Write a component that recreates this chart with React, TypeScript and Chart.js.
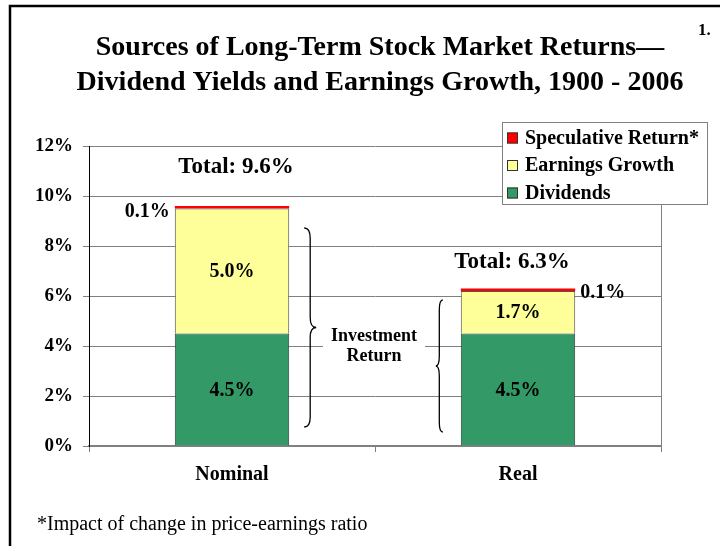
import React, { useEffect, useRef } from 'react';
import { Chart, registerables } from 'chart.js';

Chart.register(...registerables);

const categories = ['Nominal', 'Real'];
const dividends = [4.5, 4.5];
const earningsGrowth = [5.0, 1.7];
const speculative = [0.1, 0.1];
const seriesLabels = ['Dividends', 'Earnings Growth', 'Speculative Return*'];
const seriesColors = ['#339966', '#FFFF99', '#FF0000'];
const yMin = 0;
const yMax = 12;
const yStep = 2;
const titleLines = [
  'Sources of Long-Term Stock Market Returns\u2014',
  'Dividend Yields and Earnings Growth, 1900 - 2006',
];
const footnote = '*Impact of change in price-earnings ratio';
const pageNumber = '1.';
const braceLabel = ['Investment', 'Return'];
// brace extents in axis units (annotation)
const braceRanges = [
  [0.76, 8.72],
  [0.56, 5.84],
];

const FONT = "'Liberation Serif', 'Times New Roman', serif";

const annotations = {
  id: 'annotations',
  beforeDatasetsDraw(chart: any) {
    const { ctx, chartArea } = chart;
    ctx.save();
    ctx.strokeStyle = '#808080';
    ctx.lineWidth = 1;
    ctx.beginPath();
    ctx.moveTo(chartArea.right + 0.5, chartArea.top);
    ctx.lineTo(chartArea.right + 0.5, chartArea.bottom);
    ctx.stroke();
    ctx.restore();
  },
  afterDatasetsDraw(chart: any) {
    const { ctx, scales } = chart;
    const y = scales.y;
    const x = scales.x;
    ctx.save();
    ctx.fillStyle = '#000';
    ctx.textAlign = 'center';
    ctx.textBaseline = 'middle';

    // segment labels
    [0, 1].forEach((di) => {
      const meta = chart.getDatasetMeta(di);
      meta.data.forEach((el: any, i: number) => {
        const v = chart.data.datasets[di].data[i] as number;
        ctx.font = `bold 20px ${FONT}`;
        ctx.fillText(v.toFixed(1) + '%', el.x, (el.y + el.base) / 2 + 1);
      });
    });

    // speculative labels
    const specMeta = chart.getDatasetMeta(2);
    specMeta.data.forEach((el: any, i: number) => {
      const v = speculative[i];
      ctx.font = `bold 20px ${FONT}`;
      const half = el.width / 2;
      if (i === 0) {
        ctx.textAlign = 'right';
        ctx.fillText(v.toFixed(1) + '%', el.x - half - 5, el.y + 6);
      } else {
        ctx.textAlign = 'left';
        ctx.fillText(v.toFixed(1) + '%', el.x + half + 5, el.y + 4);
      }
    });

    // totals
    const totalOffsets = [
      [4, -39],
      [-6, -26],
    ];
    categories.forEach((_, i) => {
      const total = dividends[i] + earningsGrowth[i] + speculative[i];
      const el = specMeta.data[i] as any;
      ctx.font = `bold 23px ${FONT}`;
      ctx.textAlign = 'center';
      ctx.fillText(
        'Total: ' + total.toFixed(1) + '%',
        el.x + totalOffsets[i][0],
        y.getPixelForValue(total) + totalOffsets[i][1]
      );
    });

    // braces
    ctx.strokeStyle = '#000';
    ctx.lineWidth = 1.3;
    const drawBrace = (x0: number, yTop: number, yBot: number, w: number) => {
      const yMid = (yTop + yBot) / 2;
      const h = w / 2;
      const r = 10;
      ctx.beginPath();
      ctx.moveTo(x0, yTop);
      ctx.quadraticCurveTo(x0 + h, yTop, x0 + h, yTop + r);
      ctx.lineTo(x0 + h, yMid - r);
      ctx.quadraticCurveTo(x0 + h, yMid, x0 + w, yMid);
      ctx.quadraticCurveTo(x0 + h, yMid, x0 + h, yMid + r);
      ctx.lineTo(x0 + h, yBot - r);
      ctx.quadraticCurveTo(x0 + h, yBot, x0, yBot);
      ctx.stroke();
    };
    const bar0 = specMeta.data[0] as any;
    const bar1 = specMeta.data[1] as any;
    drawBrace(
      bar0.x + bar0.width / 2 + 15,
      y.getPixelForValue(braceRanges[0][1]),
      y.getPixelForValue(braceRanges[0][0]),
      12
    );
    drawBrace(
      bar1.x - bar1.width / 2 - 18,
      y.getPixelForValue(braceRanges[1][1]),
      y.getPixelForValue(braceRanges[1][0]),
      -7
    );

    // investment return label
    const cx = (x.getPixelForValue(0) + x.getPixelForValue(1)) / 2 - 1;
    const cy = y.getPixelForValue(4);
    ctx.fillStyle = '#fff';
    ctx.fillRect(cx - 51, cy - 20, 102, 40);
    ctx.fillStyle = '#000';
    ctx.font = `bold 18px ${FONT}`;
    ctx.textAlign = 'center';
    ctx.fillText(braceLabel[0], cx, cy - 10);
    ctx.fillText(braceLabel[1], cx, cy + 10);
    ctx.restore();
  },
  afterDraw(chart: any) {
    const { ctx } = chart;
    ctx.save();
    // frame
    ctx.strokeStyle = '#000';
    ctx.lineWidth = 2.5;
    ctx.beginPath();
    ctx.moveTo(10, 546);
    ctx.lineTo(10, 6);
    ctx.lineTo(720, 6);
    ctx.stroke();

    // title
    ctx.fillStyle = '#000';
    ctx.textAlign = 'center';
    ctx.textBaseline = 'middle';
    ctx.font = `bold 28px ${FONT}`;
    ctx.fillText(titleLines[0], 380, 48);
    ctx.fillText(titleLines[1], 380, 83);

    ctx.font = `bold 17px ${FONT}`;
    ctx.textAlign = 'left';
    ctx.fillText(pageNumber, 698, 31);

    // footnote
    ctx.font = `20px ${FONT}`;
    ctx.textAlign = 'left';
    ctx.fillText(footnote, 37, 525);

    // legend
    const lx = 502, ly = 122, lw = 205, lh = 82;
    ctx.fillStyle = '#fff';
    ctx.fillRect(lx, ly, lw, lh);
    ctx.strokeStyle = '#808080';
    ctx.lineWidth = 1;
    ctx.strokeRect(lx + 0.5, ly + 0.5, lw, lh);
    const ds = chart.data.datasets;
    const order = [2, 1, 0];
    order.forEach((di, k) => {
      const rowY = 137.5 + k * 27.5;
      ctx.fillStyle = ds[di].backgroundColor;
      ctx.fillRect(507, rowY - 5, 11, 11);
      ctx.strokeStyle = '#333';
      ctx.strokeRect(507.5, rowY - 4.5, 10, 10);
      ctx.fillStyle = '#000';
      ctx.font = `bold 20px ${FONT}`;
      ctx.textAlign = 'left';
      ctx.fillText(ds[di].label, 525, rowY + 1);
    });
    ctx.restore();
  },
};

export default function App() {
  const ref = useRef<HTMLCanvasElement>(null);
  useEffect(() => {
    if (!ref.current) return;
    const chart = new Chart(ref.current, {
      type: 'bar',
      data: {
        labels: categories,
        datasets: [
          {
            label: seriesLabels[0],
            data: dividends,
            backgroundColor: seriesColors[0],
            borderColor: '#2a3f33',
            borderWidth: 1,
          },
          {
            label: seriesLabels[1],
            data: earningsGrowth,
            backgroundColor: seriesColors[1],
            borderColor: '#555555',
            borderWidth: 1,
          },
          {
            label: seriesLabels[2],
            data: speculative,
            backgroundColor: seriesColors[2],
            borderColor: '#990000',
            borderWidth: 0,
          },
        ],
      },
      options: {
        responsive: false,
        animation: false,
        devicePixelRatio: 1,
        layout: { padding: { left: 8, right: 59, top: 146, bottom: 40 } },
        datasets: {
          bar: { barPercentage: 0.8, categoryPercentage: 0.5 },
        },
        plugins: {
          legend: { display: false },
          title: { display: false },
          tooltip: { enabled: false },
        },
        scales: {
          x: {
            stacked: true,
            afterFit: (s: any) => {
              s.height = 60;
            },
            grid: {
              offset: true,
              drawOnChartArea: false,
              drawTicks: true,
              tickLength: 6,
              color: '#808080',
            },
            border: { color: '#808080', width: 2 },
            ticks: {
              color: '#000',
              padding: 11,
              font: { family: FONT, size: 20, weight: 'bold' },
            },
          },
          y: {
            stacked: true,
            min: yMin,
            max: yMax,
            afterFit: (s: any) => {
              s.width = 81;
            },
            grid: {
              color: '#808080',
              lineWidth: 1,
              tickLength: 6,
            },
            border: { color: '#000', width: 1 },
            ticks: {
              stepSize: yStep,
              color: '#000',
              padding: 10,
              font: { family: FONT, size: 19, weight: 'bold' },
              callback: (v: any) => v + '%',
            },
          },
        },
      },
      plugins: [annotations],
    });
    return () => chart.destroy();
  }, []);
  return (
    <div style={{ position: 'absolute', left: 0, top: 0, width: 720, height: 546, background: '#fff' }}>
      <canvas ref={ref} width={720} height={546} style={{ display: 'block' }} />
    </div>
  );
}
